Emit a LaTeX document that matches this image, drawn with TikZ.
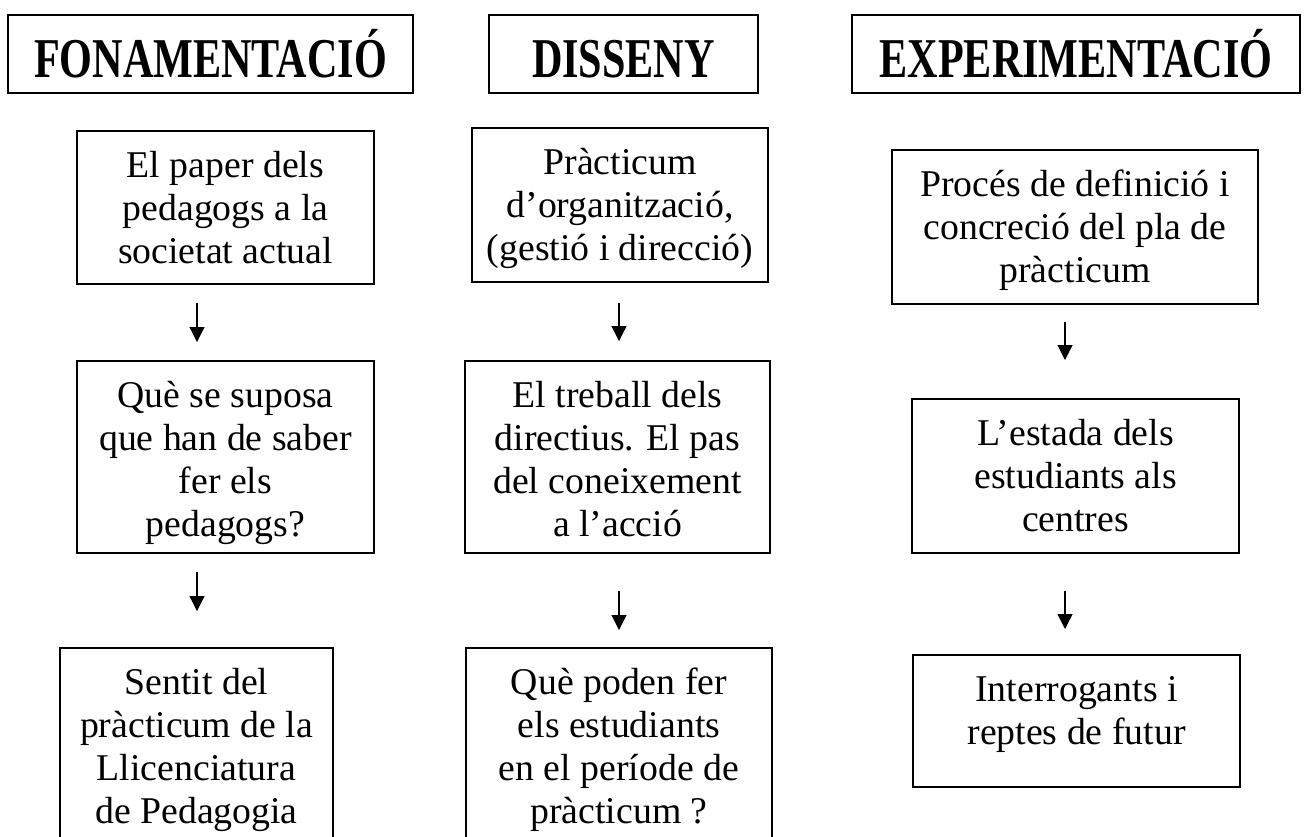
\documentclass[tikz,border=0pt]{standalone}
\usepackage{fontspec}
\setmainfont{Liberation Serif}
\usepackage{graphicx}
\usetikzlibrary{positioning,arrows.meta}

% header text: bold, a little condensed, same baseline for all three
\newcommand{\hdr}[1]{\scalebox{0.75}[1]{\fontsize{32pt}{38pt}\selectfont\bfseries\vphantom{Ó}#1}}
% box text: width, height, lines (top aligned like a text box)
\newcommand{\boxtxt}[3]{\parbox[c][#2][t]{#1}{\centering\rule{0pt}{0.92cm}#3}}

\begin{document}
\begin{tikzpicture}[x=0.02cm, y=-0.02cm,
  head/.style={draw, line width=1pt, inner sep=0pt, minimum height=1.56cm},
  box/.style={draw, line width=1pt, inner sep=0pt, font=\fontsize{21.5pt}{24.5pt}\selectfont},
  arr/.style={line width=0.7pt, -{Triangle[length=0.3cm, width=0.3cm]}}
]
\useasboundingbox (0,0) rectangle (1308,836);

% column headers
\node[head, minimum width=8.1cm] (fona) at (210.5,54) {\hdr{FONAMENTACIÓ}};
\node[head, minimum width=5.38cm] (diss) at (623.5,54) {\hdr{DISSENY}};
\node[head, minimum width=8.96cm] (expe) at (1076,54) {\hdr{EXPERIMENTACIÓ}};

% fonamentacio
\node[box] (paper) at (225.5,207.5)
  {\boxtxt{5.94cm}{3.06cm}{El paper dels\\pedagogs a la\\societat actual}};
\node[box] (saber) at (225.5,457)
  {\boxtxt{5.94cm}{3.84cm}{Què se suposa\\que han de saber\\fer els\\pedagogs?}};
\node[box] (sentit) at (196.5,745)
  {\boxtxt{5.46cm}{3.88cm}{Sentit del\\pràcticum de la\\Llicenciatura\\de Pedagogia}};

% disseny
\node[box] (organ) at (620,205)
  {\boxtxt{5.92cm}{3.08cm}{Pràcticum\\d’organització,\\(gestió i direcció)}};
\node[box] (treball) at (617.5,457)
  {\boxtxt{6.1cm}{3.84cm}{El treball dels\\directius. El pas\\del coneixement\\a l’acció}};
\node[box] (poden) at (619,745)
  {\boxtxt{6.12cm}{3.88cm}{Què poden fer\\els estudiants\\en el període de\\pràcticum ?}};

% experimentacio
\node[box] (proces) at (1075,227)
  {\boxtxt{7.32cm}{3.08cm}{Procés de definició i\\concreció del pla de\\pràcticum}};
\node[box] (estada) at (1075.5,476)
  {\boxtxt{6.54cm}{3.08cm}{L’estada dels\\estudiants als\\centres}};
\node[box] (repte) at (1076.5,721)
  {\boxtxt{6.54cm}{2.64cm}{Interrogants i\\reptes de futur}};

% arrow ends
\coordinate (f1a) at (197,303);  \coordinate (f1b) at (197,342);
\coordinate (f2a) at (197,572);  \coordinate (f2b) at (197,611);
\coordinate (d1a) at (619,303);  \coordinate (d1b) at (619,341);
\coordinate (d2a) at (619,591);  \coordinate (d2b) at (619,630);
\coordinate (e1a) at (1065,322); \coordinate (e1b) at (1065,360);
\coordinate (e2a) at (1065,591); \coordinate (e2b) at (1065,629);

\draw[arr] (f1a) -- (f1b);
\draw[arr] (f2a) -- (f2b);
\draw[arr] (d1a) -- (d1b);
\draw[arr] (d2a) -- (d2b);
\draw[arr] (e1a) -- (e1b);
\draw[arr] (e2a) -- (e2b);
\end{tikzpicture}
\end{document}
